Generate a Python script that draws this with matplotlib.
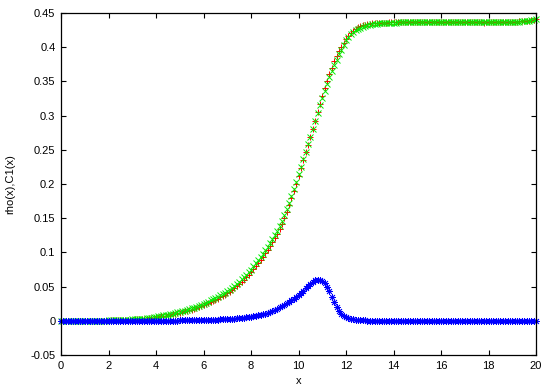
import numpy as np
import matplotlib
matplotlib.use("Agg")
from matplotlib import pyplot as plt

# x grid of the samples (step 0.1 from 0 to 20)
x = np.linspace(0, 20, 201)

# rho(x), red '+'
rho = [
    0, 0, 0, 0, 0, 0, 0, 0, 0, 0,
    0, 0, 0, 0, 0, 0.0001, 0.0001, 0.0002, 0.0002, 0.0003,
    0.0004, 0.0005, 0.0006, 0.0007, 0.0008, 0.0009, 0.0010, 0.0012, 0.0014, 0.0016,
    0.0018, 0.0020, 0.0022, 0.0024, 0.0026, 0.0029, 0.0033, 0.0038, 0.0043, 0.0048,
    0.0053, 0.0058, 0.0064, 0.0070, 0.0076, 0.0082, 0.0089, 0.0096, 0.0103, 0.0110,
    0.0118, 0.0127, 0.0136, 0.0145, 0.0154, 0.0164, 0.0177, 0.0190, 0.0203, 0.0216,
    0.0230, 0.0245, 0.0260, 0.0275, 0.0290, 0.0306, 0.0324, 0.0343, 0.0362, 0.0382,
    0.0402, 0.0426, 0.0451, 0.0477, 0.0505, 0.0534, 0.0566, 0.0599, 0.0634, 0.0671,
    0.0710, 0.0752, 0.0795, 0.0840, 0.0887, 0.0935, 0.0986, 0.1039, 0.1093, 0.1148,
    0.1205, 0.1274, 0.1345, 0.1422, 0.1504, 0.1592, 0.1690, 0.1793, 0.1897, 0.2005,
    0.2118, 0.2232, 0.2347, 0.2462, 0.2577, 0.2692, 0.2810, 0.2928, 0.3046, 0.3165,
    0.3285, 0.3398, 0.3505, 0.3607, 0.3703, 0.3792, 0.3872, 0.3943, 0.4006, 0.4062,
    0.4118, 0.4168, 0.4210, 0.4243, 0.4270, 0.4291, 0.4307, 0.4319, 0.4328, 0.4336,
    0.4342, 0.4347, 0.4351, 0.4354, 0.4356, 0.4358, 0.4360, 0.4361, 0.4362, 0.4363,
    0.4364, 0.4365, 0.4365, 0.4366, 0.4366, 0.4367, 0.4367, 0.4367, 0.4368, 0.4368,
    0.4368, 0.4368, 0.4368, 0.4368, 0.4368, 0.4368, 0.4368, 0.4368, 0.4368, 0.4368,
    0.4368, 0.4368, 0.4368, 0.4368, 0.4368, 0.4368, 0.4368, 0.4368, 0.4368, 0.4368,
    0.4368, 0.4368, 0.4368, 0.4368, 0.4368, 0.4368, 0.4368, 0.4368, 0.4352, 0.4368,
    0.4368, 0.4368, 0.4368, 0.4368, 0.4368, 0.4368, 0.4368, 0.4369, 0.4369, 0.4369,
    0.4370, 0.4372, 0.4374, 0.4376, 0.4378, 0.4381, 0.4384, 0.4388, 0.4393, 0.4399,
    0.4405,
]

# second density, green 'x'
rho2 = [
    0, 0, 0, 0, 0, 0, 0, 0, 0, 0,
    0, 0, 0, 0, 0, 0.0001, 0.0001, 0.0002, 0.0003, 0.0004,
    0.0005, 0.0006, 0.0007, 0.0008, 0.0009, 0.0010, 0.0012, 0.0014, 0.0016, 0.0018,
    0.0020, 0.0022, 0.0024, 0.0026, 0.0028, 0.0031, 0.0036, 0.0042, 0.0048, 0.0054,
    0.0060, 0.0066, 0.0072, 0.0078, 0.0084, 0.0090, 0.0098, 0.0106, 0.0114, 0.0122,
    0.0130, 0.0140, 0.0150, 0.0160, 0.0170, 0.0180, 0.0194, 0.0208, 0.0222, 0.0236,
    0.0250, 0.0266, 0.0282, 0.0298, 0.0314, 0.0330, 0.0350, 0.0370, 0.0390, 0.0410,
    0.0430, 0.0456, 0.0482, 0.0510, 0.0540, 0.0570, 0.0604, 0.0638, 0.0674, 0.0712,
    0.0750, 0.0794, 0.0838, 0.0884, 0.0932, 0.0980, 0.1032, 0.1086, 0.1140, 0.1194,
    0.1250, 0.1320, 0.1390, 0.1465, 0.1545, 0.1630, 0.1725, 0.1825, 0.1925, 0.2030,
    0.2140, 0.2250, 0.2360, 0.2470, 0.2580, 0.2690, 0.2805, 0.2920, 0.3035, 0.3150,
    0.3260, 0.3365, 0.3465, 0.3560, 0.3650, 0.3740, 0.3820, 0.3895, 0.3965, 0.4035,
    0.4100, 0.4150, 0.4190, 0.4220, 0.4250, 0.4270, 0.4285, 0.4298, 0.4310, 0.4320,
    0.4330, 0.4335, 0.4340, 0.4345, 0.4348, 0.4350, 0.4353, 0.4355, 0.4357, 0.4359,
    0.4360, 0.4361, 0.4362, 0.4363, 0.4364, 0.4365, 0.4365, 0.4366, 0.4366, 0.4367,
    0.4367, 0.4367, 0.4367, 0.4367, 0.4367, 0.4367, 0.4367, 0.4367, 0.4367, 0.4367,
    0.4367, 0.4367, 0.4367, 0.4367, 0.4367, 0.4367, 0.4367, 0.4367, 0.4367, 0.4367,
    0.4367, 0.4367, 0.4367, 0.4367, 0.4367, 0.4367, 0.4367, 0.4367, 0.4367, 0.4367,
    0.4367, 0.4367, 0.4367, 0.4367, 0.4367, 0.4367, 0.4367, 0.4368, 0.4368, 0.4368,
    0.4369, 0.4371, 0.4373, 0.4375, 0.4378, 0.4381, 0.4385, 0.4390, 0.4396, 0.4403,
    0.4410,
]

# C1(x), blue '*'
c1 = [
    0, 0, 0, 0, 0, 0, 0, 0, 0, 0,
    0, 0, 0, 0, 0, 0, 0, 0, 0, 0,
    0, 0, 0, 0, 0, 0, 0, 0, 0, 0,
    0, 0, 0, 0, 0, 0, 0, 0, 0, 0,
    0.0001, 0.0001, 0.0001, 0.0002, 0.0002, 0.0002, 0.0003, 0.0003, 0.0004, 0.0004,
    0.0005, 0.0005, 0.0006, 0.0007, 0.0008, 0.0008, 0.0009, 0.0010, 0.0011, 0.0012,
    0.0013, 0.0014, 0.0015, 0.0016, 0.0017, 0.0018, 0.0019, 0.0020, 0.0022, 0.0024,
    0.0026, 0.0028, 0.0030, 0.0032, 0.0035, 0.0038, 0.0041, 0.0045, 0.0049, 0.0054,
    0.0060, 0.0066, 0.0072, 0.0079, 0.0087, 0.0095, 0.0104, 0.0114, 0.0125, 0.0142,
    0.0160, 0.0177, 0.0195, 0.0214, 0.0234, 0.0255, 0.0277, 0.0300, 0.0324, 0.0348,
    0.0375, 0.0405, 0.0440, 0.0480, 0.0515, 0.0545, 0.0572, 0.0592, 0.0600, 0.0598,
    0.0580, 0.0555, 0.0500, 0.0430, 0.0350, 0.0270, 0.0200, 0.0145, 0.0105, 0.0075,
    0.0055, 0.0040, 0.0030, 0.0022, 0.0016, 0.0012, 0.0009, 0.0007, 0.0005, 0.0004,
    0.0003, 0.0002, 0.0002, 0.0001, 0.0001, 0.0001, 0, 0, 0, 0,
    0, 0, 0, 0, 0, 0, 0, 0, 0, 0,
    0, 0, 0, 0, 0, 0, 0, 0, 0, 0,
    0, 0, 0, 0, 0, 0, 0, 0, 0, 0,
    0, 0, 0, 0, 0, 0, 0, 0, 0, 0,
    0, 0, 0, 0, 0, 0, 0, 0, 0, 0,
    0, 0, 0, 0, 0, 0, 0, 0, 0, 0,
    0,
]

xticks = [0, 2, 4, 6, 8, 10, 12, 14, 16, 18, 20]
yticks = [-0.05, 0, 0.05, 0.1, 0.15, 0.2, 0.25, 0.3, 0.35, 0.4, 0.45]
ytick_labels = ['-0.05', '0', '0.05', '0.1', '0.15', '0.2', '0.25', '0.3', '0.35', '0.4', '0.45']

plt.rcParams['font.family'] = ['Liberation Sans', 'DejaVu Sans']

fig = plt.figure(figsize=(5.54, 3.88), dpi=100)
ax = fig.add_axes([61 / 554, 33 / 388, 475 / 554, 342 / 388])

ax.plot(x, rho, linestyle='none', marker='+', color='#ff0000',
        markersize=4.8, markeredgewidth=0.7, clip_on=False)
ax.plot(x, rho2, linestyle='none', marker='x', color='#00ee00',
        markersize=3.8, markeredgewidth=0.7, clip_on=False)
ax.plot(x, c1, linestyle='none', marker=(8, 2, 0), color='#0000ff',
        markersize=5, markeredgewidth=0.6, clip_on=False)

ax.set_xlim(0, 20)
ax.set_ylim(-0.05, 0.45)
ax.set_xticks(xticks)
ax.set_xticklabels([str(t) for t in xticks])
ax.set_yticks(yticks)
ax.set_yticklabels(ytick_labels)
ax.tick_params(direction='in', top=True, right=True, length=3.5, width=0.8,
               labelsize=8, pad=4)
for s in ax.spines.values():
    s.set_linewidth(0.9)

ax.set_xlabel('x', fontsize=8, labelpad=4)
ax.set_ylabel('rho(x),C1(x)', fontsize=8)
ax.yaxis.set_label_coords(-0.097, 0.5)

fig.savefig('out.png', dpi=100)
